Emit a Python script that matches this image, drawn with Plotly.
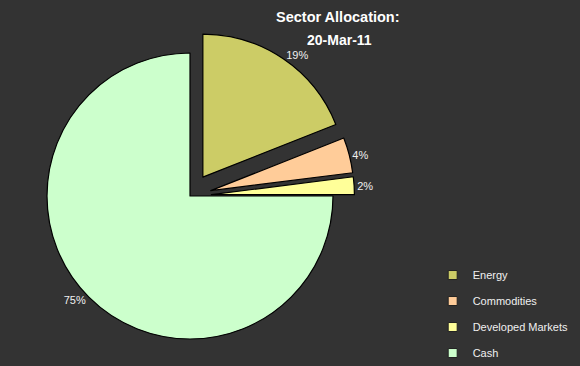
import plotly.graph_objects as go

labels = ["Energy", "Commodities", "Developed Markets", "Cash"]
values = [19, 4, 2, 75]
colors = ["#CCCC66", "#FFCC99", "#FFFF99", "#CCFFCC"]
pulls = [0.16, 0.15, 0.15, 0.0]

W, H = 580, 366
cx, cy, r = 190, 196, 143
box = 2 * r * (1 + max(pulls))
dx = [(cx - box / 2) / W, (cx + box / 2) / W]
dy = [(H - cy - box / 2) / H, (H - cy + box / 2) / H]

FONT = "Liberation Sans, Arial"

fig = go.Figure(go.Pie(
    labels=labels, values=values, sort=False, direction="clockwise", rotation=0,
    marker=dict(colors=colors, line=dict(color="#000000", width=1.2)),
    pull=pulls, texttemplate="%{value}%", textposition="outside", automargin=False,
    textfont=dict(family=FONT, size=11, color="#f0f0f0"),
    domain=dict(x=dx, y=dy), hoverinfo="label+percent", showlegend=False,
))

for lab, col in zip(labels, colors):
    fig.add_trace(go.Scatter(
        x=[None], y=[None], mode="markers", name=lab, legendgroup=lab,
        marker=dict(symbol="square", size=9, color=col, line=dict(color="#222222", width=1)),
        showlegend=True,
    ))

fig.update_xaxes(visible=False)
fig.update_yaxes(visible=False)

fig.update_layout(
    width=W, height=H, margin=dict(l=0, r=0, t=0, b=0, autoexpand=False),
    paper_bgcolor="#333333", plot_bgcolor="#333333",
    showlegend=True,
    legend=dict(x=0.746, y=0.142, xanchor="left", yanchor="middle",
                font=dict(family=FONT, size=11, color="#f0f0f0"),
                bgcolor="rgba(0,0,0,0)", itemwidth=30, tracegroupgap=7),
    annotations=[
        dict(text="<b>Sector Allocation:</b>", x=338 / W, y=1 - 17 / H, xref="paper", yref="paper",
             xanchor="center", yanchor="middle", showarrow=False,
             font=dict(family=FONT, size=14.5, color="#ffffff")),
        dict(text="<b>20-Mar-11</b>", x=340 / W, y=1 - 40 / H, xref="paper", yref="paper",
             xanchor="center", yanchor="middle", showarrow=False,
             font=dict(family=FONT, size=14, color="#ffffff")),
    ],
)

fig.write_html("out.html", post_script="document.body.style.margin='0';",
               config={"displayModeBar": False})
